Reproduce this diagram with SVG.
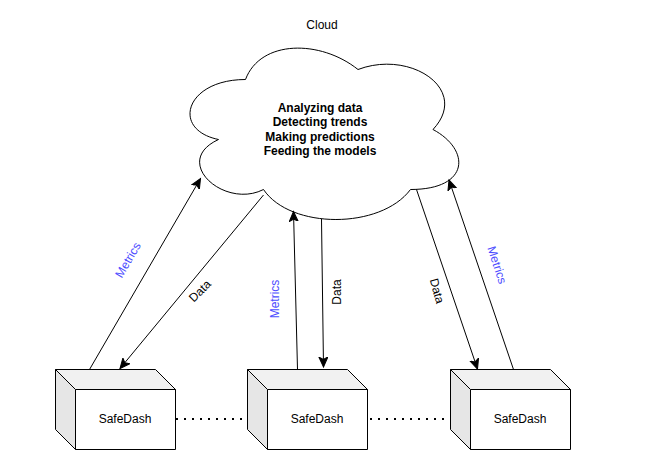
<svg xmlns="http://www.w3.org/2000/svg" width="672" height="467" viewBox="0 0 672 467">
<style>
text{font-family:"Liberation Sans",Arial,Helvetica,sans-serif;font-size:12px;fill:#000;text-anchor:middle}
.b{font-weight:bold}
.m{fill:#4d4dff}
.front{fill:#fff;stroke:#000;stroke-width:1;stroke-linejoin:miter}
.top{fill:#f1f1f1;stroke:#000;stroke-width:1}
.side{fill:#e6e6e6;stroke:#000;stroke-width:1}
.c{fill:none;stroke:#000;stroke-width:1}
.d{fill:none;stroke:#000;stroke-width:2;stroke-dasharray:2 6}
</style>
<defs>
<marker id="a" markerUnits="userSpaceOnUse" markerWidth="12" markerHeight="12" viewBox="0 0 12 12" refX="10" refY="5" orient="auto"><path d="M0 0.5 L10 5 L0 9.500 L2.500 5 Z" fill="#000" stroke="#000" stroke-width="1"/></marker>
<g id="box">
<path class="front" d="M20 20H120V80H20Z"/>
<path class="side" d="M0 0L20 20V80L0 60Z"/>
<path class="top" d="M0 0H100L120 20H20Z"/>
</g>
</defs>
<text x="322" y="29">Cloud</text>
<g id="cloud">
<path d="M245.500 79.500C185.500 79.500 170.500 129.500 218.500 139.500C170.500 161.500 224.500 209.500 263.500 189.500C290.500 229.500 380.500 229.500 410.500 189.500C470.500 189.500 470.500 149.500 433 129.500C470.500 89.500 410.500 49.500 358 69.500C320.500 39.500 260.500 39.500 245.500 79.500Z" fill="#fff" stroke="#000"/>
<text class="b" x="320" y="112">Analyzing data</text>
<text class="b" x="320" y="126">Detecting trends</text>
<text class="b" x="320" y="141">Making predictions</text>
<text class="b" x="320" y="155">Feeding the models</text>
</g>
<g id="connectors">
<path class="c" marker-end="url(#a)" d="M89.500 369.500L200.500 178.500"/>
<path class="c" marker-end="url(#a)" d="M263.500 195L120 368.500"/>
<path class="c" marker-end="url(#a)" d="M297.500 369.500L293.500 211.500"/>
<path class="c" marker-end="url(#a)" d="M321.500 219L323.500 367"/>
<path class="c" marker-end="url(#a)" d="M416.500 189.500L477.500 369"/>
<path class="c" marker-end="url(#a)" d="M513.500 369.500L449 180"/>
<path class="d" d="M176 419H243"/>
<path class="d" d="M370 419H444"/>
</g>
<g id="labels">
<text class="m" transform="translate(128 260) rotate(-60)" y="4">Metrics</text>
<text transform="translate(200 291) rotate(-45)" y="4">Data</text>
<text class="m" transform="translate(275 299) rotate(-90)" y="4">Metrics</text>
<text transform="translate(337 292) rotate(-90)" y="4">Data</text>
<text transform="translate(437 291) rotate(75)" y="4">Data</text>
<text class="m" transform="translate(497 265) rotate(72)" y="4">Metrics</text>
</g>
<g id="node1"><use href="#box" x="55.500" y="369.500"/><text x="125" y="423">SafeDash</text></g>
<g id="node2"><use href="#box" x="247.500" y="369.500"/><text x="317" y="423">SafeDash</text></g>
<g id="node3"><use href="#box" x="450.500" y="369.500"/><text x="520" y="423">SafeDash</text></g>
</svg>
